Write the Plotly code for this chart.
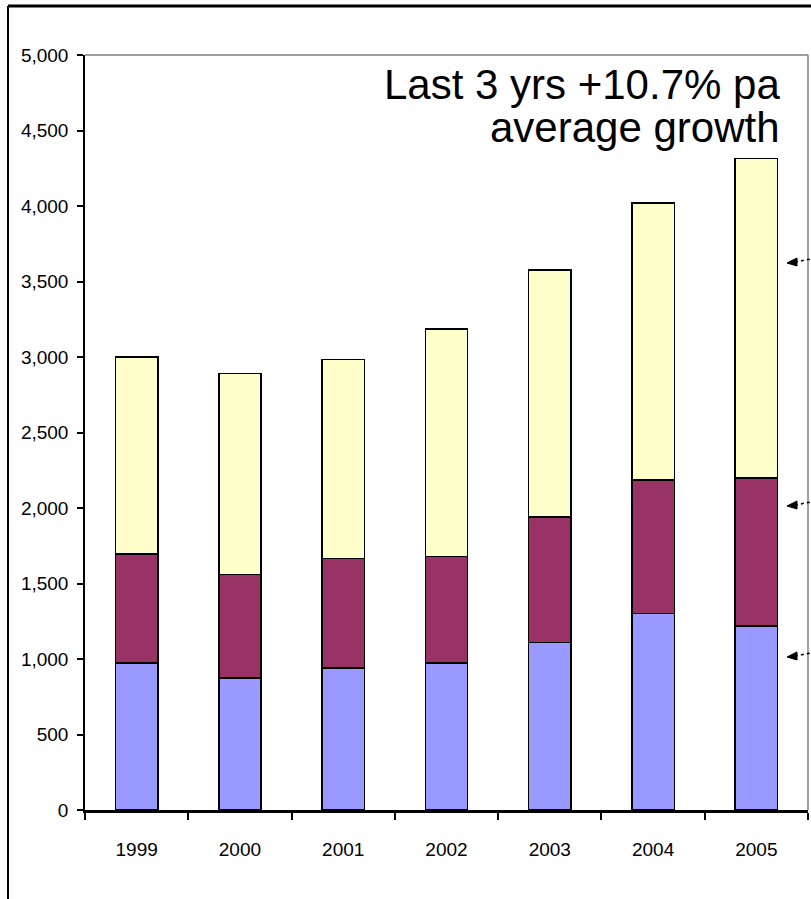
import plotly.graph_objects as go

# Data: stacked volumes by year (three components, bottom to top)
years = ["1999", "2000", "2001", "2002", "2003", "2004", "2005"]
base_part = [975, 875, 940, 975, 1110, 1300, 1220]
middle_part = [720, 685, 725, 705, 830, 885, 980]
top_part = [1305, 1330, 1320, 1505, 1635, 1835, 2115]

y_ticks = [0, 500, 1000, 1500, 2000, 2500, 3000, 3500, 4000, 4500, 5000]

colors = ["#9999FF", "#993366", "#FFFFCC"]

W, H = 811, 899
ML, MR, MT, MB = 85, 3, 55, 89
PW = W - ML - MR
PH = H - MT - MB


def px(x):
    return (x - ML) / PW


def py(y):
    return (H - MB - y) / PH


fig = go.Figure()
for vals, col in zip([base_part, middle_part, top_part], colors):
    fig.add_trace(go.Bar(
        x=years, y=vals,
        marker=dict(color=col, line=dict(color="#000000", width=1.5)),
        width=0.41,
        hoverinfo="skip",
    ))

axis_font = dict(family="Liberation Sans Narrow, Arial Narrow, Liberation Sans, Arial",
                 size=19, color="#000000")

fig.update_layout(
    width=W, height=H,
    margin=dict(l=ML, r=MR, t=MT, b=MB),
    barmode="stack",
    showlegend=False,
    paper_bgcolor="#FFFFFF",
    plot_bgcolor="#FFFFFF",
    xaxis=dict(
        type="category",
        tickson="boundaries",
        ticks="outside", ticklen=7, tickwidth=1.5, tickcolor="#000000",
        showline=True, linecolor="#000000", linewidth=3,
        showgrid=False, zeroline=False,
        tickfont=axis_font,
        ticklabelstandoff=20,
    ),
    yaxis=dict(
        range=[0, 5000],
        tickvals=y_ticks,
        tickformat=",d",
        ticks="outside", ticklen=6, tickwidth=1.5, tickcolor="#000000",
        showline=True, linecolor="#000000", linewidth=1.5,
        showgrid=False, zeroline=False,
        tickfont=axis_font,
        ticklabelstandoff=5,
    ),
)

# Plot-area frame: grey top and right edges
fig.add_shape(type="line", xref="paper", yref="paper", x0=0, x1=1, y0=1, y1=1,
              line=dict(color="#808080", width=1.5))
fig.add_shape(type="line", xref="paper", yref="paper", x0=1, x1=1, y0=0, y1=1,
              line=dict(color="#808080", width=1.5))

# Outer slide frame (left and top edges)
fig.add_shape(type="line", xref="paper", yref="paper", x0=px(8), x1=px(8), y0=py(899), y1=py(6),
              line=dict(color="#000000", width=2))
fig.add_shape(type="line", xref="paper", yref="paper", x0=px(8), x1=px(811), y0=py(6), y1=py(6),
              line=dict(color="#000000", width=3))

# Growth callout
txt_font = dict(family="Liberation Sans, Arial", size=42, color="#000000")
fig.add_annotation(text="Last 3 yrs +10.7% pa", xref="paper", yref="paper",
                   x=px(782), y=py(85), xanchor="right", yanchor="middle",
                   showarrow=False, font=txt_font)
fig.add_annotation(text="average growth", xref="paper", yref="paper",
                   x=px(782), y=py(127), xanchor="right", yanchor="middle",
                   showarrow=False, font=txt_font)

# Dotted pointers toward the segment labels at the right
for tip_y in [263, 506, 657]:
    fig.add_shape(type="line", xref="paper", yref="paper",
                  x0=px(795), y0=py(tip_y - 1), x1=px(811), y1=py(tip_y - 4),
                  line=dict(color="#000000", width=1.5, dash="dot"))
    path = "M {:.5f} {:.5f} L {:.5f} {:.5f} L {:.5f} {:.5f} Z".format(
        px(787), py(tip_y), px(797), py(tip_y - 5), px(797), py(tip_y + 3))
    fig.add_shape(type="path", xref="paper", yref="paper", path=path,
                  fillcolor="#000000", line=dict(color="#000000", width=1))

fig.write_html("out.html")
